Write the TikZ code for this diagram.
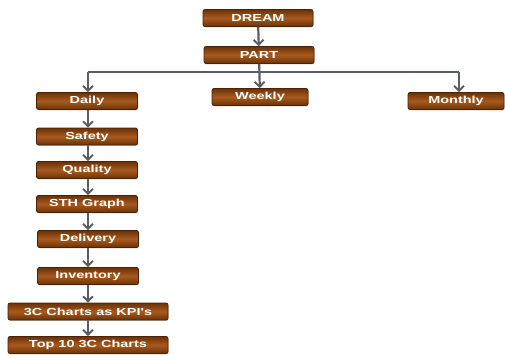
\documentclass[tikz,border=0pt]{standalone}
\usepackage{fontspec}
\setmainfont{Liberation Sans}
\newfontfamily\boxfont[FakeStretch=1.42]{Liberation Sans}
\usetikzlibrary{arrows.meta,shadows}
\definecolor{bdark}{HTML}{6B3208}
\definecolor{bmid}{HTML}{A85A1E}
\definecolor{bedge}{HTML}{4A2205}
\definecolor{lgrey}{HTML}{5A5E62}
\tikzset{
  box/.style={draw=bedge, line width=0.8pt, rounded corners=2pt,
    top color=bdark, bottom color=bdark, middle color=bmid,
    drop shadow={shadow xshift=0.6pt, shadow yshift=-0.8pt, opacity=0.5},
    text=white, font=\boxfont\bfseries\fontsize{10.2}{11}\selectfont,
    inner sep=0pt, align=center, minimum height=17pt},
  conn/.style={draw=lgrey, line width=2.2pt, -{Straight Barb[length=5pt,width=10pt,line width=1.9pt]}},
  plain/.style={draw=lgrey, line width=1.6pt}
}
\begin{document}
\begin{tikzpicture}[x=1pt,y=-1pt]
\useasboundingbox (0,0) rectangle (505,354);
\node[box, minimum width=110pt] (dream) at (258,18) {DREAM};
\node[box, minimum width=110pt] (part) at (259,55) {PART};
\node[box, minimum width=96pt] (weekly) at (260,97) {Weekly};
\node[box, minimum width=101pt] (daily) at (87,101) {Daily};
\node[box, minimum width=96pt] (monthly) at (456,101) {Monthly};
\node[box, minimum width=101pt] (safety) at (87,136.5) {Safety};
\node[box, minimum width=101pt] (quality) at (87,170) {Quality};
\node[box, minimum width=101pt] (sth) at (87,204) {STH Graph};
\node[box, minimum width=101pt] (delivery) at (88,239) {Delivery};
\node[box, minimum width=101pt] (inventory) at (88,276) {Inventory};
\node[box, minimum width=160pt] (kpi) at (88,311.5) {3C Charts as KPI's};
\node[box, minimum width=160pt] (top) at (88,345) {Top 10 3C Charts};
\coordinate (hl) at (88,72);
\coordinate (hr) at (459,72);
\draw[conn] (dream) -- (part);
\draw[conn] (part) -- (weekly);
\draw[plain] (hl) -- (hr);
\draw[conn] (hl) -- (daily.north -| hl);
\draw[conn] (hr) -- (monthly.north -| hr);
\draw[conn] (daily.south -| hl) -- (safety.north -| hl);
\draw[conn] (safety.south -| hl) -- (quality.north -| hl);
\draw[conn] (quality.south -| hl) -- (sth.north -| hl);
\draw[conn] (sth.south -| hl) -- (delivery.north -| hl);
\draw[conn] (delivery.south -| hl) -- (inventory.north -| hl);
\draw[conn] (inventory.south -| hl) -- (kpi.north -| hl);
\draw[conn] (kpi.south -| hl) -- (top.north -| hl);
\end{tikzpicture}
\end{document}
